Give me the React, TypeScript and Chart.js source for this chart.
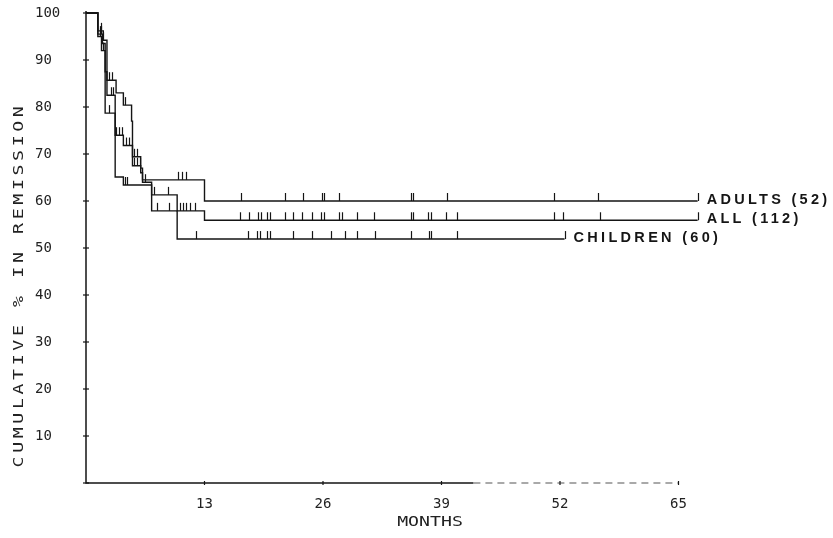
import React, { useEffect, useRef } from "react";
import { Chart, registerables } from "chart.js";

Chart.register(...registerables);

// Kaplan-Meier remission curves: event times (months) and the level after each step
const adultTimes = [0, 1.3, 1.9, 2.3, 3.3, 4.1, 5.0, 5.1, 6.0, 6.2, 13.0, 67.1];
const adultValues = [100, 96.2, 94.2, 85.7, 83.0, 80.4, 77.0, 69.4, 67.0, 64.5, 60.0, 60.0];
const adultCensored = [1.6, 1.9, 2.5, 2.8, 4.3, 5.3, 5.6, 10.1, 10.5, 11.0, 17.0, 21.8, 23.8, 25.9, 26.1, 27.8, 35.7, 35.9, 39.6, 51.3, 56.2, 67.1];

const allTimes = [0, 1.3, 1.8, 2.1, 2.3, 3.2, 4.1, 5.1, 6.0, 6.2, 7.2, 10.0, 13.0, 67.1];
const allValues = [100, 95.5, 93.5, 87.5, 82.5, 74.0, 71.8, 67.5, 66.0, 64.0, 61.3, 57.9, 55.9, 55.9];
const allCensored = [1.5, 1.6, 2.7, 3.0, 3.3, 3.6, 3.9, 4.4, 4.7, 5.3, 5.6, 5.9, 6.5, 7.5, 9.0, 10.3, 10.6, 11.0, 11.4, 12.0, 16.9, 17.9, 18.9, 19.2, 19.9, 20.2, 21.8, 22.7, 23.7, 24.8, 25.8, 26.1, 27.8, 28.1, 29.7, 31.6, 35.7, 35.9, 37.5, 37.9, 39.5, 40.7, 51.3, 52.3, 56.4, 67.1];

const childTimes = [0, 1.3, 1.7, 2.1, 3.2, 4.1, 7.2, 10.0, 52.5];
const childValues = [100, 95.0, 92.0, 78.7, 65.1, 63.4, 57.9, 51.9, 51.9];
const childCensored = [1.5, 1.9, 2.5, 4.3, 4.5, 7.8, 9.1, 12.1, 17.8, 18.8, 19.1, 19.9, 20.2, 22.7, 24.8, 26.9, 28.4, 29.7, 31.7, 35.6, 37.6, 37.8, 40.7, 52.5];

const curveLabels = ["ADULTS (52)", "ALL (112)", "CHILDREN (60)"];
const monthTicks = [13, 26, 39, 52, 65];
const percentTicks = [10, 20, 30, 40, 50, 60, 70, 80, 90, 100];

const xTitle = "MONTHS";
const yTitle = "CUMULATIVE % IN REMISSION";

const INK = "#151515";
const MONO = '"DejaVu Sans Mono", monospace';

type Curve = { times: number[]; values: number[]; censored: number[]; label: string };

const curves: Curve[] = [
  { times: adultTimes, values: adultValues, censored: adultCensored, label: curveLabels[0] },
  { times: allTimes, values: allValues, censored: allCensored, label: curveLabels[1] },
  { times: childTimes, values: childValues, censored: childCensored, label: curveLabels[2] },
];

function levelAt(times: number[], values: number[], t: number): number {
  let v = values[0];
  for (let i = 0; i < times.length; i++) {
    if (times[i] <= t) v = values[i];
  }
  return v;
}

const decorations = {
  id: "kmDecorations",
  afterDatasetsDraw(chart: any) {
    const { ctx, scales } = chart;
    const xs = scales.x;
    const ys = scales.y;
    ctx.save();
    ctx.strokeStyle = INK;
    ctx.fillStyle = INK;
    ctx.lineWidth = 1.2;

    // censoring marks rise above the curve
    curves.forEach((c) => {
      c.censored.forEach((t) => {
        const px = Math.round(xs.getPixelForValue(t)) + 0.5;
        const py = ys.getPixelForValue(levelAt(c.times, c.values, t));
        ctx.beginPath();
        ctx.moveTo(px, py);
        ctx.lineTo(px, py - 8);
        ctx.stroke();
      });
    });

    // curve names at the end of each curve
    ctx.font = 'bold 14.5px "Liberation Sans", Arial, sans-serif';
    (ctx as any).letterSpacing = "3.3px";
    ctx.textAlign = "left";
    ctx.textBaseline = "middle";
    curves.forEach((c) => {
      const tEnd = c.times[c.times.length - 1];
      const px = xs.getPixelForValue(tEnd) + 9;
      const py = ys.getPixelForValue(c.values[c.values.length - 1]) - 1;
      ctx.fillText(c.label, px, py);
    });
    ctx.restore();
  },
  afterDraw(chart: any) {
    const { ctx, scales } = chart;
    const xs = scales.x;
    const ys = scales.y;
    const x0 = xs.getPixelForValue(0);
    const y0 = ys.getPixelForValue(0);
    ctx.save();
    ctx.strokeStyle = INK;
    ctx.lineWidth = 1.5;

    // axes
    ctx.beginPath();
    ctx.moveTo(x0, ys.getPixelForValue(100) - 2);
    ctx.lineTo(x0, y0);
    ctx.lineTo(xs.getPixelForValue(42.5), y0);
    ctx.stroke();
    ctx.save();
    ctx.lineWidth = 1.1;
    ctx.strokeStyle = "#555";
    ctx.setLineDash([7, 5]);
    ctx.beginPath();
    ctx.moveTo(xs.getPixelForValue(42.5), y0);
    ctx.lineTo(xs.getPixelForValue(65), y0);
    ctx.stroke();
    ctx.restore();

    // small cross marks at the tick positions
    ctx.lineWidth = 1.2;
    [0, ...percentTicks].forEach((v) => {
      const py = ys.getPixelForValue(v);
      ctx.beginPath();
      ctx.moveTo(x0 - 3, py);
      ctx.lineTo(x0 + 3, py);
      ctx.stroke();
    });
    monthTicks.forEach((m) => {
      const px = xs.getPixelForValue(m);
      ctx.beginPath();
      ctx.moveTo(px, y0 - 2);
      ctx.lineTo(px, y0 + 2);
      ctx.stroke();
    });

    // axis titles
    ctx.fillStyle = "#222";
    ctx.font = `14px ${MONO}`;
    ctx.textBaseline = "middle";
    ctx.textAlign = "center";

    ctx.save();
    ctx.translate(430, 522);
    ctx.scale(1.3, 1);
    ctx.fillText(xTitle, 0, 0);
    ctx.restore();

    ctx.save();
    ctx.translate(19, 285);
    ctx.rotate(-Math.PI / 2);
    ctx.scale(1.3, 1);
    (ctx as any).letterSpacing = "2.8px";
    ctx.fillText(yTitle, 0, 0);
    ctx.restore();

    ctx.restore();
  },
};

export default function App() {
  const canvasRef = useRef<HTMLCanvasElement | null>(null);

  useEffect(() => {
    if (!canvasRef.current) return;
    const datasets = curves.map((c) => ({
      label: c.label,
      data: c.times.map((t, i) => ({ x: t, y: c.values[i] })),
      stepped: "before" as const,
      borderColor: INK,
      borderWidth: 1.4,
      pointRadius: 0,
      fill: false,
      clip: false as any,
    }));

    const chart = new Chart(canvasRef.current, {
      type: "line",
      data: { datasets },
      options: {
        animation: false,
        responsive: true,
        maintainAspectRatio: false,
        layout: { padding: { left: 35, top: 13, right: 154.5, bottom: 0 } },
        plugins: { legend: { display: false }, tooltip: { enabled: false } },
        scales: {
          x: {
            type: "linear",
            min: 0,
            max: 65,
            afterBuildTicks: (scale: any) => {
              scale.ticks = [0, ...monthTicks].map((v) => ({ value: v }));
            },
            afterFit: (scale: any) => {
              scale.height = 55;
            },
            grid: { display: false, drawTicks: false },
            border: { display: false },
            ticks: {
              autoSkip: false,
              maxRotation: 0,
              padding: 13,
              color: "#222",
              font: { family: MONO, size: 14 },
              callback: (v: any) => (Number(v) === 0 ? "" : String(v)),
            },
          },
          y: {
            type: "linear",
            min: 0,
            max: 100,
            afterBuildTicks: (scale: any) => {
              scale.ticks = [0, ...percentTicks].map((v) => ({ value: v }));
            },
            afterFit: (scale: any) => {
              scale.width = 51;
            },
            grid: { display: false, drawTicks: false },
            border: { display: false },
            ticks: {
              crossAlign: "far",
              color: "#222",
              font: { family: MONO, size: 14 },
              callback: (v: any) => (Number(v) === 0 ? "" : String(v)),
            },
          },
        },
      },
      plugins: [decorations],
    });
    return () => chart.destroy();
  }, []);

  return (
    <div style={{ position: "fixed", left: 0, top: 0, width: 833, height: 538 }}>
      <canvas ref={canvasRef} />
    </div>
  );
}
